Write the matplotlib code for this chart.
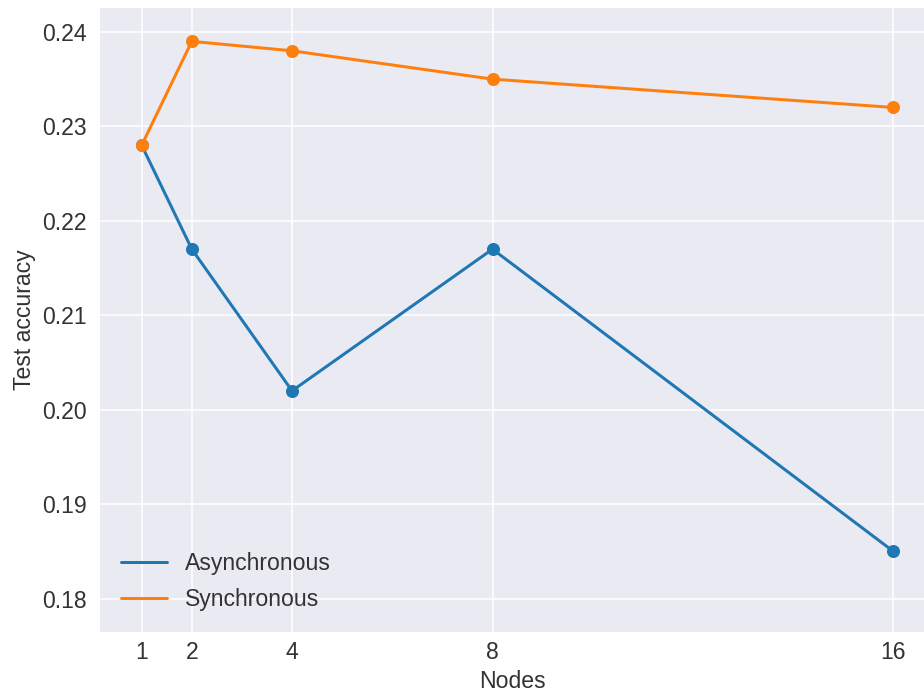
import matplotlib
matplotlib.use("Agg")
import matplotlib.pyplot as plt

nodes = [1, 2, 4, 8, 16]
acc_async = [0.228, 0.217, 0.202, 0.217, 0.185]
acc_sync = [0.228, 0.239, 0.238, 0.235, 0.232]
yticks = [0.18, 0.19, 0.20, 0.21, 0.22, 0.23, 0.24]

plt.style.use("seaborn-v0_8-darkgrid")
plt.rcParams['font.family'] = ['Liberation Sans', 'DejaVu Sans']
plt.rcParams['text.color'] = '#333333'
plt.rcParams['axes.labelcolor'] = '#333333'
plt.rcParams['xtick.color'] = '#333333'
plt.rcParams['ytick.color'] = '#333333'

fig = plt.figure(figsize=(6.4, 4.8), dpi=144.375)
ax = fig.add_axes([100 / 924, 1 - 631.7 / 693, 824 / 924, (631.7 - 8.3) / 693])

ax.plot(nodes, acc_async, '-o', color='#1f77b4', linewidth=1.5, markersize=5.5, label='Asynchronous')
ax.plot(nodes, acc_sync, '-o', color='#ff7f0e', linewidth=1.5, markersize=5.5, label='Synchronous')

ax.set_xticks(nodes)
ax.set_yticks(yticks)
ax.set_yticklabels(['%.2f' % v for v in yticks])
ax.set_xlim(0.168, 16.61)
ax.set_ylim(0.1765, 0.2425)
ax.tick_params(axis='x', labelsize=11.5, pad=4.5)
ax.tick_params(axis='y', labelsize=11.5, pad=6.5)
ax.set_xlabel('Nodes', fontsize=11.5, labelpad=3.2)
ax.set_ylabel('Test accuracy', fontsize=11.5, labelpad=3)

# legend shows plain lines only
leg = ax.legend(fontsize=11.5, loc='lower left', handlelength=2.0, labelspacing=0.55)
for h in leg.legend_handles:
    h.set_marker('')

fig.savefig('out.png', dpi=144.375)
